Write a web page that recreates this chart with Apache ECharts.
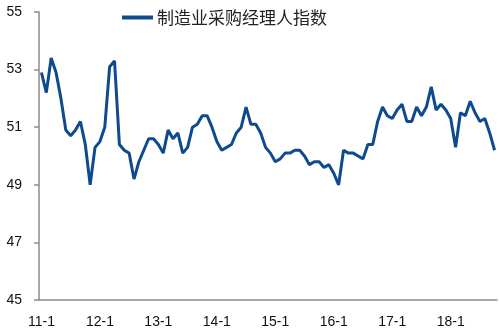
<!DOCTYPE html>
<html><head><meta charset="utf-8">
<script src="https://cdn.jsdelivr.net/npm/echarts@6/dist/echarts.min.js"></script>
<style>html,body{margin:0;padding:0;background:#fff}#c{width:500px;height:335px}</style>
</head><body><div id="c"></div>
<script>
const years = ['11','12','13','14','15','16','17','18'];
const seriesName = '制造业采购经理人指数';
const pmi2011 = [52.9, 52.2, 53.4, 52.9, 52.0, 50.9, 50.7, 50.9, 51.2, 50.4, 49.0, 50.3];
const pmi2012 = [50.5, 51.0, 53.1, 53.3, 50.4, 50.2, 50.1, 49.2, 49.8, 50.2, 50.6, 50.6];
const pmi2013 = [50.4, 50.1, 50.9, 50.6, 50.8, 50.1, 50.3, 51.0, 51.1, 51.4, 51.4, 51.0];
const pmi2014 = [50.5, 50.2, 50.3, 50.4, 50.8, 51.0, 51.7, 51.1, 51.1, 50.8, 50.3, 50.1];
const pmi2015 = [49.8, 49.9, 50.1, 50.1, 50.2, 50.2, 50.0, 49.7, 49.8, 49.8, 49.6, 49.7];
const pmi2016 = [49.4, 49.0, 50.2, 50.1, 50.1, 50.0, 49.9, 50.4, 50.4, 51.2, 51.7, 51.4];
const pmi2017 = [51.3, 51.6, 51.8, 51.2, 51.2, 51.7, 51.4, 51.7, 52.4, 51.6, 51.8, 51.6];
const pmi2018 = [51.3, 50.3, 51.5, 51.4, 51.9, 51.5, 51.2, 51.3, 50.8, 50.2];
const yTicks = [45, 47, 49, 51, 53, 55];

const allData = [].concat(pmi2011, pmi2012, pmi2013, pmi2014, pmi2015, pmi2016, pmi2017, pmi2018);
const categories = [];
years.forEach(y => { for (let m = 1; m <= 12; m++) categories.push(y + '-' + m); });
categories.length = allData.length;

const chart = echarts.init(document.getElementById('c'), null, {renderer: 'canvas'});
const font = '"Liberation Sans", Arial, sans-serif';
chart.setOption({
  animation: false,
  grid: {left: 39, right: 3, top: 12, bottom: 35},
  legend: {
    data: [seriesName],
    left: 117, top: 4,
    icon: 'rect', itemWidth: 31, itemHeight: 4, itemGap: 4,
    textStyle: {fontSize: 17, color: '#222', padding: [0, 0, 0, -1], fontFamily: '"Noto Sans CJK SC", sans-serif'}
  },
  xAxis: {
    type: 'category',
    data: categories,
    boundaryGap: true,
    axisLine: {lineStyle: {color: '#8c8c8c', width: 1.5}},
    axisTick: {interval: 11, length: 5, lineStyle: {color: '#8c8c8c', width: 1.5}},
    axisLabel: {interval: 11, margin: 15, fontSize: 14, color: '#111', fontFamily: font}
  },
  yAxis: {
    type: 'value',
    min: 45, max: 55, interval: 2,
    splitLine: {show: false},
    axisLine: {show: true, lineStyle: {color: '#8c8c8c', width: 1.5}},
    axisTick: {show: true, length: 5, lineStyle: {color: '#8c8c8c', width: 1.5}},
    axisLabel: {margin: 17, fontSize: 14, color: '#111', fontFamily: font,
      formatter: v => yTicks.includes(v) ? String(v) : ''}
  },
  series: [{
    name: seriesName,
    type: 'line',
    data: allData,
    symbol: 'none',
    lineStyle: {color: '#0f4a8f', width: 3},
    itemStyle: {color: '#0f4a8f'}
  }]
});
</script></body></html>
